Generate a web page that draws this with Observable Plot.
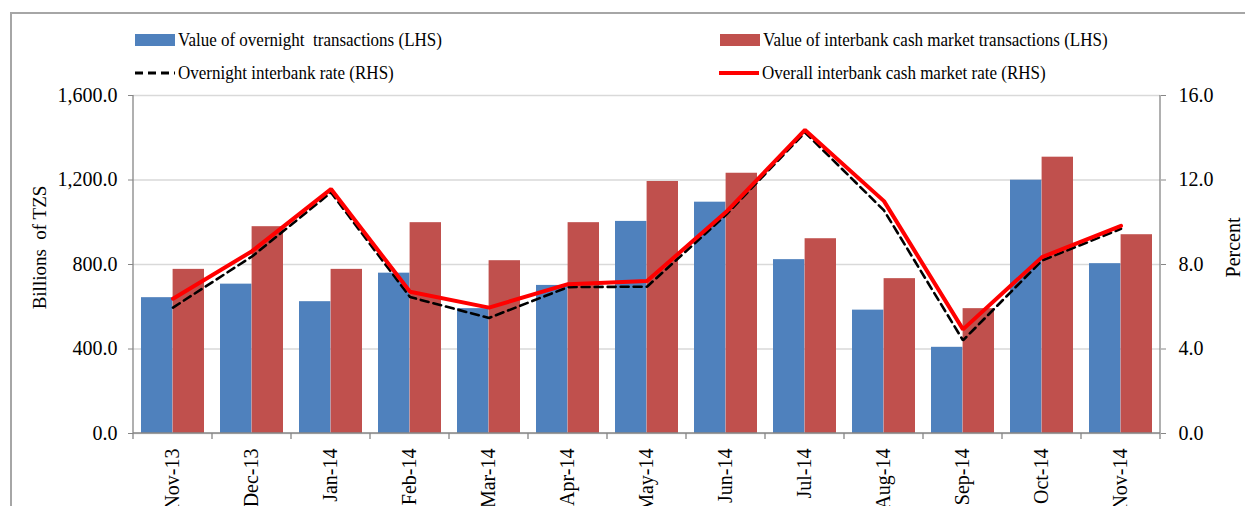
<!DOCTYPE html>
<html>
<head>
<meta charset="utf-8">
<script src="https://cdn.jsdelivr.net/npm/d3@7"></script>
<script src="https://cdn.jsdelivr.net/npm/@observablehq/plot@0.6"></script>
<style>
  html, body { margin: 0; padding: 0; background: #fff; }
  #wrap { position: relative; width: 1245px; height: 506px; overflow: hidden; font-family: "Liberation Serif", "Times New Roman", serif; }
  #frame { position: absolute; left: 10px; top: 12px; width: 1300px; height: 600px; border-top: 2px solid #a6a6a6; border-left: 2px solid #a6a6a6; pointer-events: none; }
  #legend { position: relative; height: 80px; font-size: 17px; color: #000; }
  .item { position: absolute; display: flex; align-items: center; white-space: pre; }
  .item svg { margin-right: 3px; }
  .item span { display: inline-block; transform: scaleY(1.15); }
  svg text { white-space: pre; }
</style>
</head>
<body>
<div id="wrap">
  <div id="frame"></div>
  <div id="legend"></div>
  <div id="chart"></div>
</div>
<script>
// ---- data ----
const months = ["Nov-13","Dec-13","Jan-14","Feb-14","Mar-14","Apr-14","May-14","Jun-14","Jul-14","Aug-14","Sep-14","Oct-14","Nov-14"];
const overnightValue = [643, 707, 624, 759, 591, 701, 1004, 1095, 823, 584, 408, 1199, 804];
const interbankValue = [777, 979, 777, 998, 818, 998, 1193, 1232, 922, 733, 591, 1308, 941];
const overnightRate = [5.96, 8.38, 11.41, 6.46, 5.47, 6.93, 6.95, 10.35, 14.25, 10.56, 4.41, 8.19, 9.69];
const overallRate   = [6.38, 8.63, 11.57, 6.71, 5.96, 7.07, 7.22, 10.48, 14.37, 11.00, 4.93, 8.35, 9.83];
const valueTicks = [0, 400, 800, 1200, 1600];
const rateTicks = [0, 4, 8, 12, 16];
const seriesNames = [
  "Value of overnight  transactions (LHS)",
  "Value of interbank cash market transactions (LHS)",
  "Overnight interbank rate (RHS)",
  "Overall interbank cash market rate (RHS)"
];
const leftTitle = "Billions  of TZS";
const rightTitle = "Percent";
const rateScale = 1600 / 16; // RHS 16.0 aligns with LHS 1,600.0

const table = months.map((m, i) => ({
  month: m,
  overnight: overnightValue[i],
  interbank: interbankValue[i],
  onRate: overnightRate[i],
  allRate: overallRate[i]
}));

// ---- layout ----
const W = 1245, H = 426;
const mL = 133, mR = 85, mT = 15, mB = 73;
const plotW = W - mL - mR;
const step = plotW / months.length;
const padIn = 0.2;
const bw = step * (1 - padIn);

const BLUE = "#4F81BD", RED = "#C0504D", LINE_RED = "#FF0000", AXIS = "#868686", GRID = "#d9d9d9";

// ---- legend ----
const legend = document.getElementById("legend");
function addItem(left, top, swatch, text) {
  const d = document.createElement("div");
  d.className = "item";
  d.style.left = left + "px";
  d.style.top = top + "px";
  d.innerHTML = swatch + `<span>${text}</span>`;
  legend.appendChild(d);
}
const rectSw = c => `<svg width="40" height="14"><rect x="0" y="1" width="40" height="12" fill="${c}"/></svg>`;
const dashSw = `<svg width="40" height="14"><line x1="0" x2="40" y1="7" y2="7" stroke="#000" stroke-width="3" stroke-dasharray="8,5"/></svg>`;
const lineSw = `<svg width="40" height="14"><line x1="0" x2="40" y1="7" y2="7" stroke="${LINE_RED}" stroke-width="4"/></svg>`;
addItem(135, 30, rectSw(BLUE), seriesNames[0]);
addItem(720, 30, rectSw(RED), seriesNames[1]);
addItem(135, 63, dashSw, seriesNames[2]);
addItem(719, 63, lineSw, seriesNames[3]);

// ---- custom axis lines + category boundary ticks ----
function frameMarks(index, scales, values, dims) {
  const g = d3.create("svg:g").attr("stroke", AXIS).attr("stroke-width", 1.3).attr("fill", "none");
  const x0 = dims.marginLeft, x1 = dims.width - dims.marginRight;
  const y0 = dims.marginTop, y1 = dims.height - dims.marginBottom;
  const s = (x1 - x0) / months.length;
  g.append("line").attr("x1", x0).attr("x2", x0).attr("y1", y0).attr("y2", y1);
  g.append("line").attr("x1", x1).attr("x2", x1).attr("y1", y0).attr("y2", y1);
  g.append("line").attr("x1", x0).attr("x2", x1).attr("y1", y1).attr("y2", y1);
  for (let i = 0; i <= months.length; i++) {
    g.append("line").attr("x1", x0 + i * s).attr("x2", x0 + i * s).attr("y1", y1).attr("y2", y1 + 6);
  }
  return g.node();
}

const chart = Plot.plot({
  width: W, height: H,
  marginLeft: mL, marginRight: mR, marginTop: mT, marginBottom: mB,
  style: { fontFamily: "'Liberation Serif', 'Times New Roman', serif", fontSize: "20px", color: "#000", background: "transparent", overflow: "visible" },
  x: { domain: months, paddingInner: padIn, paddingOuter: padIn / 2, label: null },
  y: { domain: [0, 1600], label: null },
  marks: [
    Plot.gridY(valueTicks, { stroke: GRID, strokeOpacity: 1, strokeWidth: 1.3 }),
    Plot.barY(table, { x: "month", y: "overnight", fill: BLUE, insetRight: bw / 2 }),
    Plot.barY(table, { x: "month", y: "interbank", fill: RED, insetLeft: bw / 2 }),
    Plot.line(table, { x: "month", y: d => d.onRate * rateScale, stroke: "#000", strokeWidth: 2.6, strokeDasharray: "8,5", strokeLinejoin: "miter" }),
    Plot.line(table, { x: "month", y: d => d.allRate * rateScale, stroke: LINE_RED, strokeWidth: 4, strokeLinejoin: "miter" }),
    frameMarks,
    Plot.axisY({ anchor: "left", ticks: valueTicks, tickFormat: d3.format(",.1f"), tickSize: 5, tickPadding: 11, stroke: AXIS, label: null }),
    Plot.axisY({ anchor: "right", ticks: rateTicks.map(r => r * rateScale), tickFormat: d => (d / rateScale).toFixed(1), tickSize: 5, tickPadding: 13, stroke: AXIS, label: null }),
    Plot.axisX({ tickSize: 0, tickRotate: -90, tickPadding: 15, label: null }),
    Plot.text([leftTitle], { text: d => d, frameAnchor: "left", textAnchor: "middle", lineAnchor: "middle", rotate: -90, dx: -94, dy: -17, fontSize: 19, fill: "#000" }),
    Plot.text([rightTitle], { text: d => d, frameAnchor: "right", textAnchor: "middle", lineAnchor: "middle", rotate: -90, dx: 73, dy: -17, fontSize: 20, fill: "#000" })
  ]
});
document.getElementById("chart").appendChild(chart);
</script>
</body>
</html>
